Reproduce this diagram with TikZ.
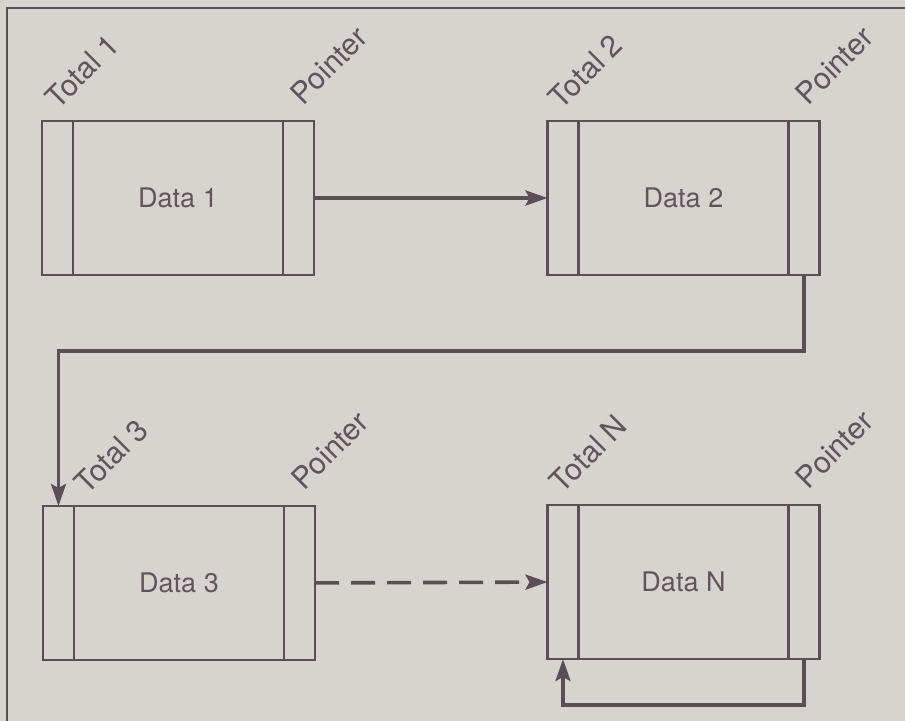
\documentclass[tikz,border=0pt]{standalone}
\usepackage{fontspec}
\setmainfont{TeX Gyre Heros}
\usetikzlibrary{arrows.meta,positioning}
\definecolor{paper}{HTML}{D7D4D0}
\definecolor{ink}{HTML}{5A4F56}
\definecolor{inktext}{HTML}{5F565D}
\tikzset{
  cell/.style={draw=ink,line width=1.1pt,minimum width=15.5pt,minimum height=77pt,inner sep=0pt,outer sep=0pt},
  body/.style={cell,minimum width=105pt,font=\fontsize{13.5}{16}\selectfont,text=inktext},
  lbl/.style={rotate=45,anchor=south west,inner sep=0pt,font=\fontsize{15}{17}\selectfont,text=inktext},
  ar/.style={-{Stealth[length=11pt,width=7.5pt,inset=2pt]},draw=ink,line width=1.8pt},
  ard/.style={ar,dash pattern=on 12pt off 6pt},
}

\begin{document}
\begin{tikzpicture}[x=0.5pt,y=-0.5pt]
  \fill[paper] (0,0) rectangle (905,721);
  \useasboundingbox (0,0) rectangle (905,721);
  \draw[ink,line width=1pt] (7,721) -- (7,8) -- (905,8);
  % records: total | data | pointer
  \foreach \n/\x/\y/\s in {1/57.5/198/0.5, 2/563/198/-0.5, 3/58.5/583/14.5, N/563/582/0} {
    \node[cell] (t\n) at (\x,\y) {};
    \node[body,right=0pt of t\n] (d\n) {Data \n};
    \node[cell,right=0pt of d\n] (p\n) {};
    \node[lbl] (lt\n) at ([xshift=\s pt,yshift=5pt]t\n.north) {Total \n};
    \node[lbl] (lp\n) at ([xshift=2.5pt,yshift=7pt]p\n.north) {Pointer};
  }
  % links
  \draw[ar] (p1) -- (t2);
  \draw[ar] (p2.south) -- ++(0,76) -| (t3.north);
  \draw[ard] (p3) -- (tN);
  \draw[ar] (pN.south) -- ++(0,46) -| (tN.south);
\end{tikzpicture}
\end{document}
